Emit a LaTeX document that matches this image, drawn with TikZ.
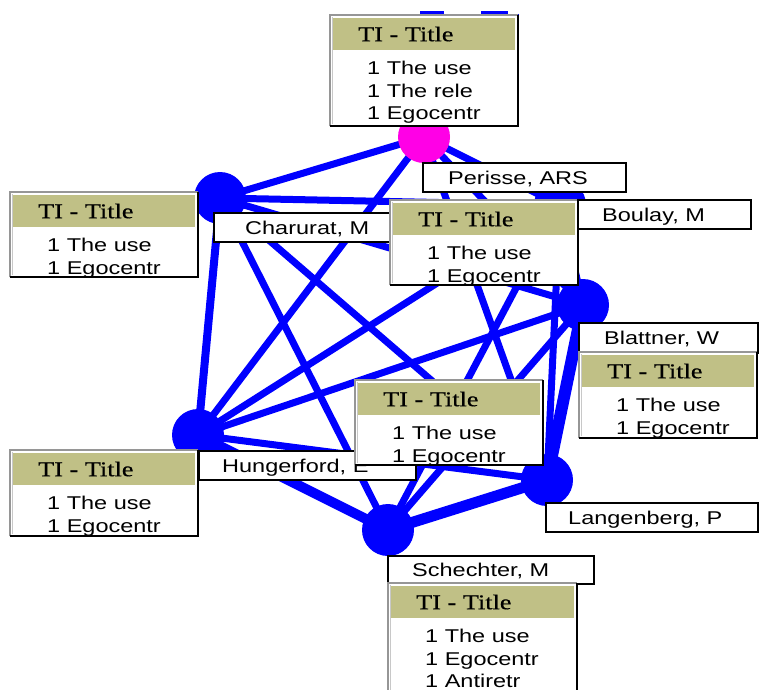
\documentclass[tikz,border=0pt]{standalone}
\usepackage{fontspec}
\usetikzlibrary{backgrounds}
\newfontfamily\namefont[FakeStretch=1.27]{Liberation Sans}
\newfontfamily\headfont[FakeStretch=1.25,FakeBold=0.5]{Liberation Serif}
\definecolor{linkblue}{RGB}{0,0,255}
\definecolor{hubpink}{RGB}{255,0,230}
\definecolor{bandkhaki}{RGB}{192,192,134}
\definecolor{bevelgray}{RGB}{150,150,150}
\definecolor{bevellight}{RGB}{200,200,200}

% A record box: khaki title band over a white list of counted titles.
% #1 name, #2 x, #3 y, #4 width, #5 height, #6 lines
\newcommand{\recordbox}[6]{%
  \node[recbody, minimum width=#4pt, minimum height=#5pt] (#1) at (#2,#3) {};
  \node[recband, minimum width={(#4-6)*1pt}] (#1-band) at ([xshift=3pt,yshift=-3pt]#1.north west) {};
  \draw[bevelgray, line width=1.6pt] (#1.south west) -- (#1.north west) -- (#1.north east);
  \draw[bevellight, line width=1.2pt] ([xshift=2.4pt,yshift=-2pt]#1.north west) -- ([xshift=2.4pt,yshift=2pt]#1.south west);
  \draw[black, line width=2pt] (#1.north east) -- (#1.south east) -- (#1.south west);
  \node[headtxt] (#1-head) at ([xshift=25pt]#1-band.west) {TI - Title};
  \node[bodytxt] (#1-body) at ([xshift=37pt,yshift=-46pt]#1.north west) {#6};
}
% An author label: white box, black frame, name set in from the left.
% #1 name, #2 x, #3 y, #4 width, #5 height, #6 indent, #7 text
\newcommand{\authorlabel}[7]{%
  \node[namebox, minimum width=#4pt, minimum height=#5pt] (#1) at (#2,#3) {};
  \node[nametxt] (#1-txt) at ([xshift=#6pt]#1.west) {#7};
}

\begin{document}
\begin{tikzpicture}[x=1pt,y=-1pt,
  link/.style={linkblue, line width=7pt, line cap=round},
  author/.style={circle, fill=linkblue, minimum size=52pt, inner sep=0pt},
  hub/.style={author, fill=hubpink},
  recbody/.style={rectangle, fill=white, anchor=north west, inner sep=0pt},
  recband/.style={rectangle, fill=bandkhaki, anchor=north west, inner sep=0pt, minimum height=32pt},
  headtxt/.style={anchor=west, inner sep=0pt, font=\headfont\fontsize{21}{23}\selectfont, text height=14pt, text depth=0pt},
  bodytxt/.style={anchor=north west, inner sep=0pt, align=left, font=\namefont\fontsize{18.5}{22.5}\selectfont},
  namebox/.style={rectangle, draw=black, line width=1.6pt, fill=white, anchor=north west, inner sep=0pt},
  nametxt/.style={anchor=west, inner sep=0pt, font=\namefont\fontsize{18.5}{20}\selectfont, text height=13.5pt, text depth=0pt}
]
\useasboundingbox (0,0) rectangle (760,690);
\clip (0,0) rectangle (760,690);

% authors
\node[hub]    (P)  at (424,137) {};
\node[author] (C)  at (220,198) {};
\node[author] (B)  at (560,205) {};
\node[author] (Bl) at (583,305) {};
\node[author] (H)  at (198,435) {};
\node[author] (L)  at (547,480) {};
\node[author] (S)  at (388,530) {};

% co-authorship links, under the author dots
\begin{pgfonlayer}{background}
\fill[white] (0,0) rectangle (760,690);
\draw[link] (P.center) -- (C.center);
\draw[link] (P.center) -- (B.center);
\draw[link] (P.center) -- (Bl.center);
\draw[link] (P.center) -- (H.center);
\draw[link] (P.center) -- (L.center);
\draw[link] (C.center) -- (B.center);
\draw[link] (C.center) -- (Bl.center);
\draw[link, line width=8pt] (C.center) -- (H.center);
\draw[link] (C.center) -- (L.center);
\draw[link] (C.center) -- (S.center);
\draw[link] (B.center) -- (Bl.center);
\draw[link] (B.center) -- (H.center);
\draw[link] (B.center) -- (L.center);
\draw[link] (B.center) -- (S.center);
\draw[link] (Bl.center) -- (H.center);
\draw[link, line width=12pt] (Bl.center) -- (L.center);
\draw[link] (Bl.center) -- (S.center);
\draw[link] (H.center) -- (L.center);
\draw[link, line width=10pt] (H.center) -- (S.center);
\draw[link, line width=11pt] (L.center) -- (S.center);
\end{pgfonlayer}

% stray marks by the top record
\draw[linkblue, line width=3pt] (420,13) -- (444,13);
\draw[linkblue, line width=3pt] (481,13) -- (508,13);
\draw[linkblue, line width=3pt, dash pattern=on 7pt off 3pt] (517,14) -- (517,44);

% labels and records
\recordbox{recP}{330}{15}{188}{111}{1 The use\\1 The rele\\1 Egocentr}
\authorlabel{labP}{422}{162}{203}{29}{26}{Perisse, ARS}
\recordbox{recC}{10}{192}{188}{85}{1 The use\\1 Egocentr}
\authorlabel{labC}{213}{212}{182}{29}{32}{Charurat, M}
\recordbox{recB}{390}{200}{188}{85}{1 The use\\1 Egocentr}
\authorlabel{labB}{577}{199}{173}{29}{25}{Boulay, M}
\authorlabel{labBl}{578}{322}{179}{30}{26}{Blattner, W}
\recordbox{recBl}{579}{352}{178}{86}{1 The use\\1 Egocentr}
\authorlabel{labH}{198}{450}{217}{29}{24}{Hungerford, E}
\recordbox{recL}{355}{380}{188}{85}{1 The use\\1 Egocentr}
\recordbox{recH}{10}{450}{188}{86}{1 The use\\1 Egocentr}
\authorlabel{labL}{545}{502}{212}{29}{23}{Langenberg, P}
\authorlabel{labS}{387}{555}{206}{28}{25}{Schechter, M}
\recordbox{recS}{388}{583}{189}{111}{1 The use\\1 Egocentr\\1 Antiretr}
\end{tikzpicture}
\end{document}
